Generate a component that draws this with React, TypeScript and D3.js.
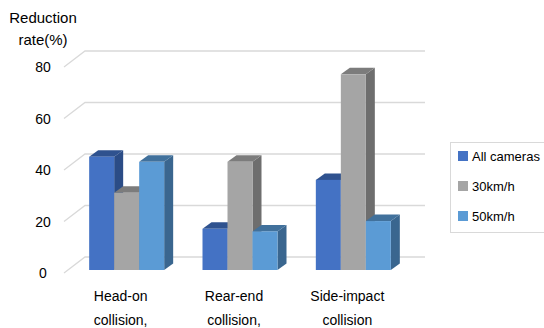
import React from "react";
import * as d3 from "d3";

const categories = ["Head-on collision,", "Rear-end collision,", "Side-impact collision"];
const categoryLines = [["Head-on", "collision,"], ["Rear-end", "collision,"], ["Side-impact", "collision"]];
const seriesNames = ["All cameras", "30km/h", "50km/h"];
const allCameras = [44, 16, 35];
const kmh30 = [30, 42, 76];
const kmh50 = [42, 15, 19];
const yTicks = [0, 20, 40, 60, 80];

const palette = [
  { front: "#4472C4", top: "#2F528F", side: "#2B4C86" },
  { front: "#A5A5A5", top: "#7C7C7C", side: "#6E6E6E" },
  { front: "#5B9BD5", top: "#41719C", side: "#3A668F" },
];

const W = 544, H = 328;
const font = "'Liberation Sans', Arial, sans-serif";

export default function App() {
  const series = [allCameras, kmh30, kmh50];
  const x = d3.scaleBand<string>().domain(categories).range([64, 404]);
  const inner = d3.scaleBand<string>().domain(seriesNames).range([-37.5, 37.5]);
  const yFront = d3.scaleLinear().domain([0, 80]).range([273, 67]);
  const back = { dx: 21, dy: -16 };
  const barOff = { dx: 6, dy: -3 };
  const depth = { dx: 9, dy: -6.5 };

  const bars: JSX.Element[] = [];
  categories.forEach((c, ci) => {
    seriesNames.forEach((s, si) => {
      const v = series[si][ci];
      const cx = (x(c) as number) + x.bandwidth() / 2;
      const x0 = cx + (inner(s) as number) + barOff.dx;
      const w = inner.bandwidth();
      const y0 = yFront(0) + barOff.dy;
      const yt = yFront(v) + barOff.dy;
      const p = palette[si];
      const pts = (arr: number[][]) => arr.map((q) => q.join(",")).join(" ");
      bars.push(
        <g key={`${ci}-${si}`}>
          <polygon fill={p.side} points={pts([[x0 + w, yt], [x0 + w + depth.dx, yt + depth.dy], [x0 + w + depth.dx, y0 + depth.dy], [x0 + w, y0]])} />
          <polygon fill={p.top} points={pts([[x0, yt], [x0 + w, yt], [x0 + w + depth.dx, yt + depth.dy], [x0 + depth.dx, yt + depth.dy]])} />
          <rect x={x0} y={yt} width={w} height={y0 - yt} fill={p.front} />
        </g>
      );
    });
  });

  return (
    <svg width={W} height={H} style={{ position: "absolute", left: 0, top: 0, background: "#fff" }}>
      <rect width={W} height={H} fill="#fff" />
      <g fill="#000" fontFamily={font} fontSize={15} textAnchor="middle">
        <text x={43} y={23}>Reduction</text>
        <text x={43} y={45}>rate(%)</text>
      </g>
      <g stroke="#D9D9D9" strokeWidth={1.3} fill="none">
        {yTicks.map((t) => (
          <polyline key={t} points={`64,${yFront(t)} ${64 + back.dx},${yFront(t) + back.dy} 425,${yFront(t) + back.dy}`} />
        ))}
      </g>
      <g fontFamily={font} fontSize={14} fill="#000" textAnchor="middle">
        {yTicks.map((t) => (
          <text key={t} x={43} y={yFront(t) + 5}>{t}</text>
        ))}
      </g>
      {bars}
      <g fontFamily={font} fontSize={14} fill="#000" textAnchor="middle">
        {categories.map((c, ci) => {
          const cx = (x(c) as number) + x.bandwidth() / 2;
          return (
            <g key={c}>
              <text x={cx} y={301}>{categoryLines[ci][0]}</text>
              <text x={cx} y={325}>{categoryLines[ci][1]}</text>
            </g>
          );
        })}
      </g>
      <rect x={450.5} y={142.5} width={100} height={90} fill="#fff" stroke="#D9D9D9" />
      <g fontFamily={font} fontSize={13} fill="#000">
        {seriesNames.map((s, si) => (
          <g key={s}>
            <rect x={458} y={151 + si * 30} width={10} height={10} fill={palette[si].front} />
            <text x={472} y={161 + si * 30}>{s}</text>
          </g>
        ))}
      </g>
    </svg>
  );
}
